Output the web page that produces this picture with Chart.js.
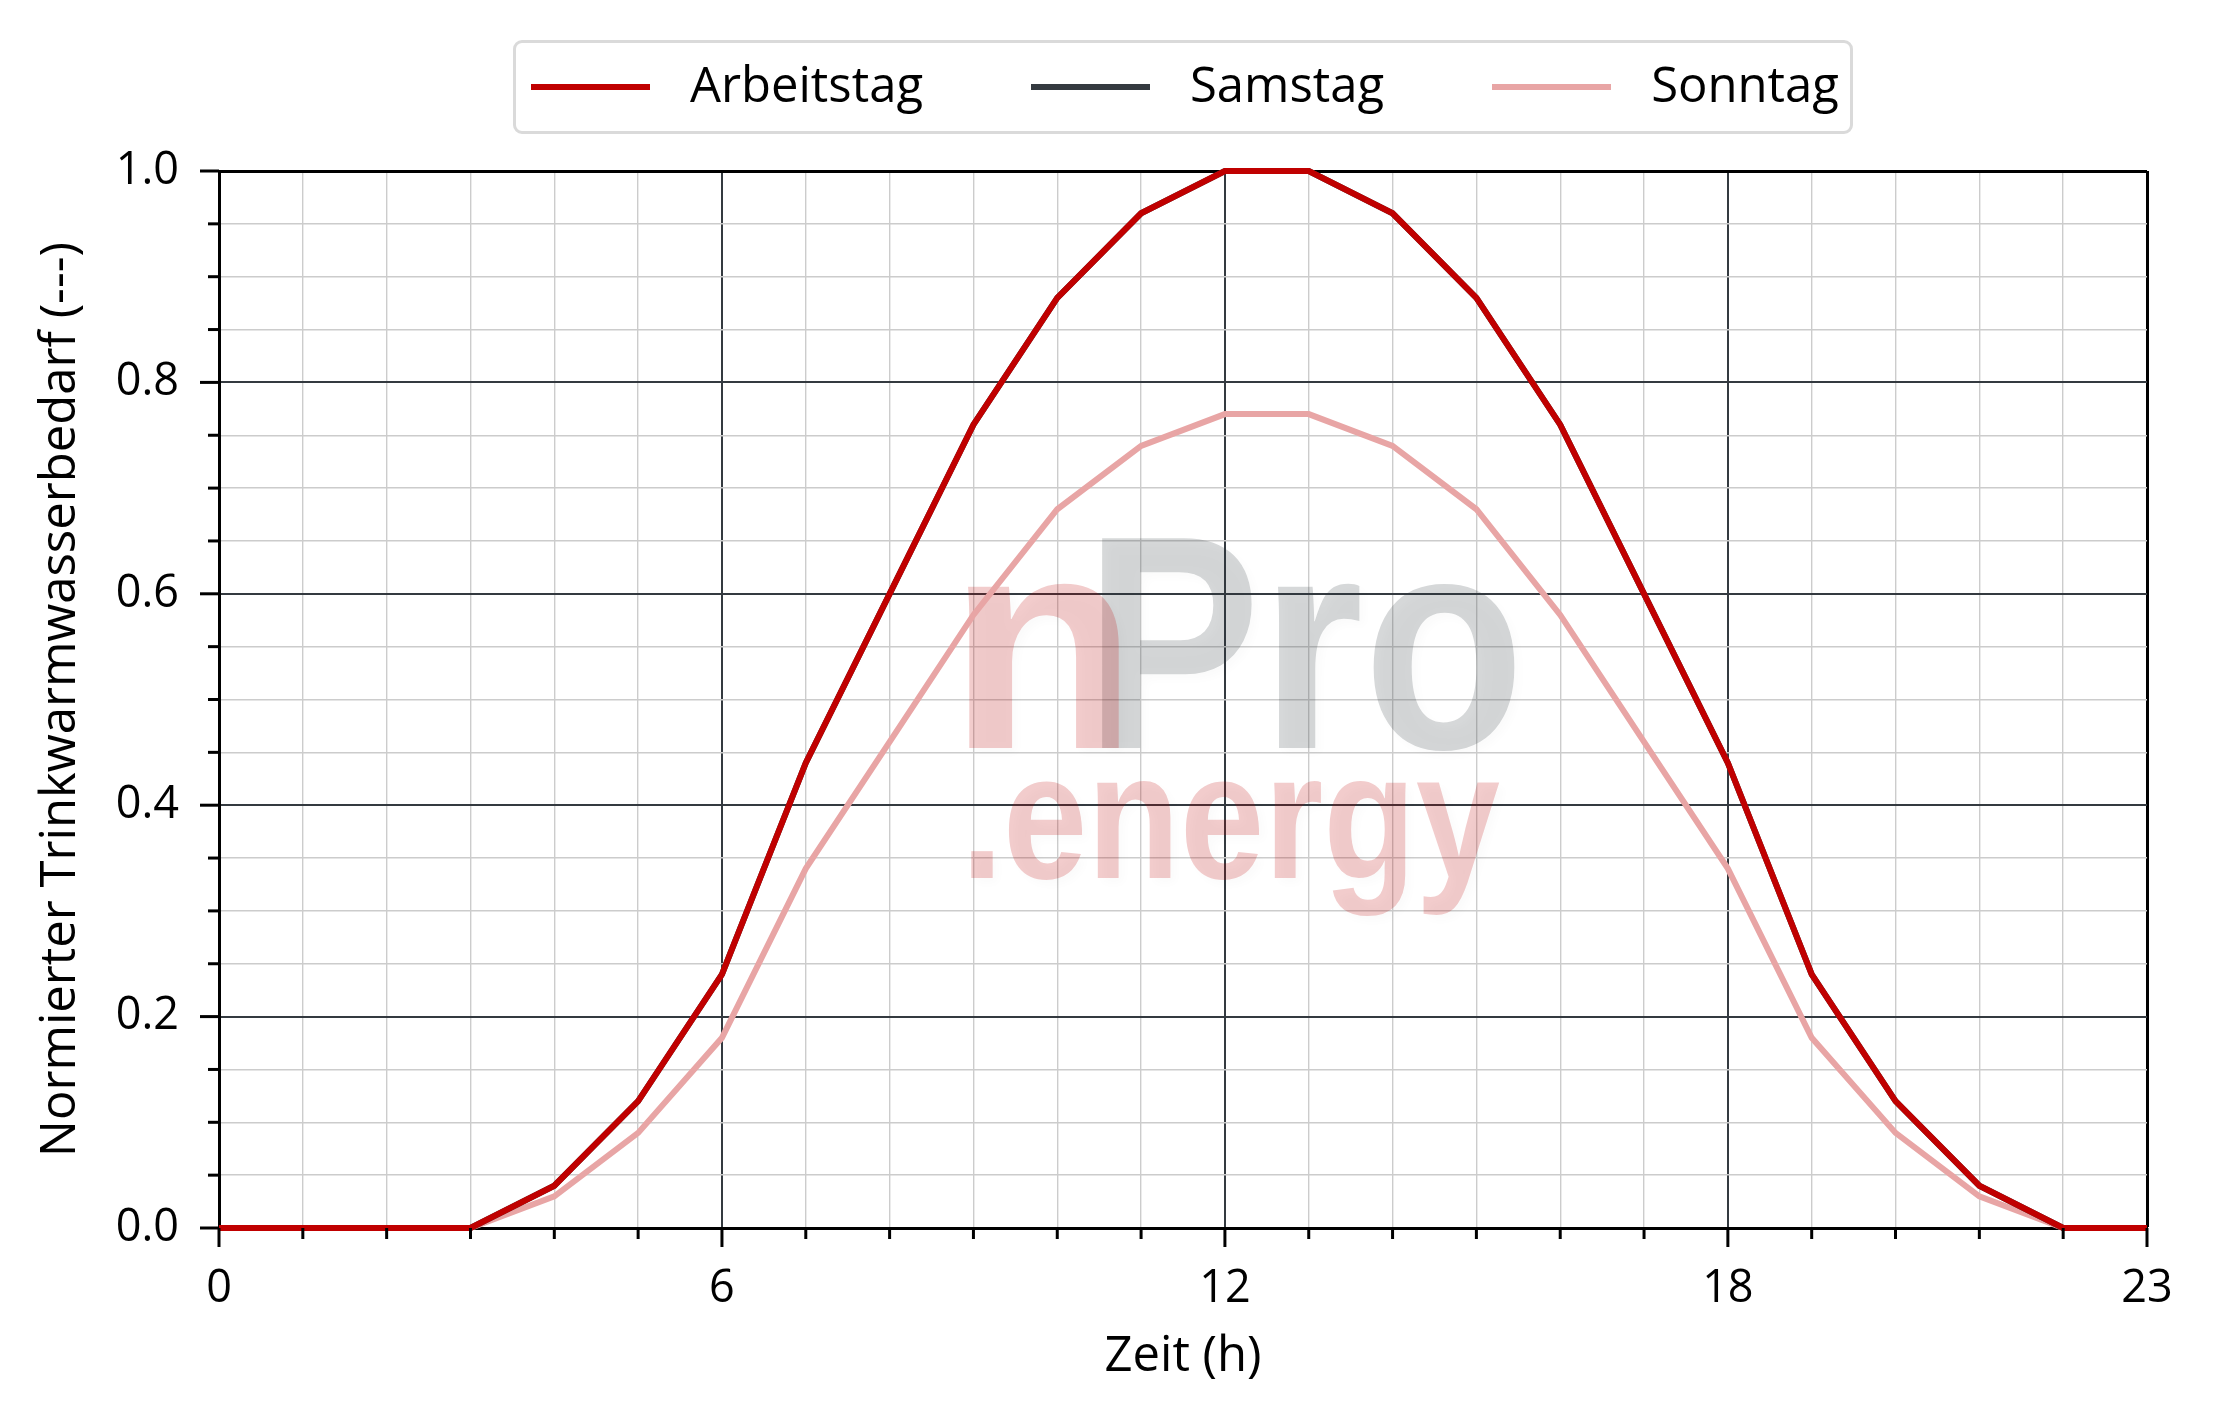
<!DOCTYPE html>
<html>
<head>
<meta charset="utf-8">
<script src="https://cdn.jsdelivr.net/npm/chart.js@4.4.1/dist/chart.umd.min.js"></script>
<style>
  html, body { margin: 0; padding: 0; background: #fff; }
  #rahmen { position: relative; width: 2215px; height: 1424px; }
  #legende {
    position: absolute; left: 513px; top: 40px; width: 1340px; height: 94px;
    border: 3px solid #dadada; border-radius: 9px; background: #fff;
    display: flex; align-items: center; padding-left: 15px; box-sizing: border-box;
    font-family: 'Open Sans', sans-serif; font-size: 49px; color: #000;
  }
  #legende .eintrag { display: flex; align-items: center; margin-right: 108px; }
  #legende .linie { width: 119px; height: 6px; margin-right: 40px; }
  #legende span { position: relative; top: -4px; }
</style>
</head>
<body>
<div id="rahmen">
  <canvas id="diagramm" width="2215" height="1424"></canvas>
  <div id="legende"></div>
</div>
<script>
// Daten
const stunden = [0, 1, 2, 3, 4, 5, 6, 7, 8, 9, 10, 11, 12, 13, 14, 15, 16, 17, 18, 19, 20, 21, 22, 23];
const arbeitstag = [0, 0, 0, 0, 0.04, 0.12, 0.24, 0.44, 0.60, 0.76, 0.88, 0.96, 1.0, 1.0, 0.96, 0.88, 0.76, 0.60, 0.44, 0.24, 0.12, 0.04, 0, 0];
const samstag = [0, 0, 0, 0, 0.04, 0.12, 0.24, 0.44, 0.60, 0.76, 0.88, 0.96, 1.0, 1.0, 0.96, 0.88, 0.76, 0.60, 0.44, 0.24, 0.12, 0.04, 0, 0];
const sonntag = [0, 0, 0, 0, 0.03, 0.09, 0.18, 0.34, 0.46, 0.58, 0.68, 0.74, 0.77, 0.77, 0.74, 0.68, 0.58, 0.46, 0.34, 0.18, 0.09, 0.03, 0, 0];
const xHauptTicks = [0, 6, 12, 18, 23];

const schrift = "'Open Sans', sans-serif";
const dunkel = '#343a40';
const hell = '#cccccc';

function punkte(werte) {
    return stunden.map((h, i) => ({ x: h, y: werte[i] }));
}

function istYHaupt(v) {
    return Math.round(v * 100) % 20 === 0;
}

// kleine/große Tickstriche außen
const tickMarken = {
    id: 'tickMarken',
    afterDraw(chart) {
        const { ctx, chartArea, scales } = chart;
        ctx.save();
        ctx.strokeStyle = '#000';
        ctx.lineWidth = 3;
        scales.x.ticks.forEach(t => {
            const px = scales.x.getPixelForValue(t.value);
            const len = xHauptTicks.includes(t.value) ? 19 : 11;
            ctx.beginPath();
            ctx.moveTo(px, chartArea.bottom);
            ctx.lineTo(px, chartArea.bottom + len);
            ctx.stroke();
        });
        scales.y.ticks.forEach(t => {
            const py = scales.y.getPixelForValue(t.value);
            const len = istYHaupt(t.value) ? 19 : 11;
            ctx.beginPath();
            ctx.moveTo(chartArea.left, py);
            ctx.lineTo(chartArea.left - len, py);
            ctx.stroke();
        });
        ctx.restore();
    }
};

function schreibe(ctx, text, x, y, breite, groesse, farbe) {
    ctx.save();
    ctx.font = 'bold ' + groesse + "px 'Liberation Sans', Arial, sans-serif";
    ctx.fillStyle = farbe;
    const m = ctx.measureText(text);
    const w = m.actualBoundingBoxLeft + m.actualBoundingBoxRight;
    ctx.translate(x, y);
    ctx.scale(breite / w, 1);
    ctx.fillText(text, m.actualBoundingBoxLeft, 0);
    ctx.restore();
}

const wasserzeichen = {
    id: 'wasserzeichen',
    beforeDatasetsDraw(chart) {
        const ctx = chart.ctx;
        ctx.save();
        ctx.shadowColor = 'rgba(0,0,0,0.10)';
        ctx.shadowBlur = 10;
        ctx.shadowOffsetX = 5;
        ctx.shadowOffsetY = 5;
        schreibe(ctx, 'Pro', 1101, 748, 415, 305, 'rgba(52,58,64,0.2)');
        schreibe(ctx, 'n', 967, 748, 156, 305, 'rgba(192,0,0,0.2)');
        schreibe(ctx, '.energy', 971, 878, 529, 180, 'rgba(192,0,0,0.2)');
        ctx.restore();
    }
};

const tickSchrift = { family: schrift, size: 45 };
const titelSchrift = { family: schrift, size: 49 };

const chart = new Chart(document.getElementById('diagramm'), {
    type: 'line',
    data: {
        datasets: [
            { label: 'Arbeitstag', data: punkte(arbeitstag), borderColor: '#c00000', backgroundColor: '#c00000', borderWidth: 6 },
            { label: 'Samstag', data: punkte(samstag), borderColor: dunkel, backgroundColor: dunkel, borderWidth: 6 },
            { label: 'Sonntag', data: punkte(sonntag), borderColor: '#e8a5a5', backgroundColor: '#e8a5a5', borderWidth: 6 }
        ].map(d => Object.assign(d, { pointRadius: 0, tension: 0, fill: false, clip: false }))
    },
    options: {
        responsive: false,
        animation: false,
        layout: { padding: { top: 171, right: 68, left: 0, bottom: 0 } },
        plugins: { legend: { display: false }, tooltip: { enabled: false } },
        scales: {
            x: {
                type: 'linear', min: 0, max: 23,
                afterFit(s) { s.height = 196; },
                ticks: {
                    stepSize: 1, autoSkip: false, maxRotation: 0, padding: 34,
                    font: tickSchrift, color: '#000',
                    callback: v => xHauptTicks.includes(v) ? String(v) : ''
                },
                grid: {
                    drawTicks: false,
                    color: c => c.tick.value === 23 ? '#000' : (xHauptTicks.includes(c.tick.value) ? dunkel : hell),
                    lineWidth: c => c.tick.value === 23 ? 3 : (xHauptTicks.includes(c.tick.value) ? 2 : 1.4)
                },
                border: { color: '#000', width: 3 },
                title: { display: true, text: 'Zeit (h)', font: titelSchrift, color: '#000', padding: { top: 38, bottom: 38 } }
            },
            y: {
                min: 0, max: 1,
                afterFit(s) { s.width = 219; },
                ticks: {
                    stepSize: 0.05, autoSkip: false, padding: 40,
                    font: tickSchrift, color: '#000',
                    callback: v => istYHaupt(v) ? v.toFixed(1) : ''
                },
                grid: {
                    drawTicks: false,
                    color: c => Math.round(c.tick.value * 100) === 100 ? '#000' : (istYHaupt(c.tick.value) ? dunkel : hell),
                    lineWidth: c => Math.round(c.tick.value * 100) === 100 ? 3 : (istYHaupt(c.tick.value) ? 2 : 1.4)
                },
                border: { color: '#000', width: 3 },
                title: { display: true, text: 'Normierter Trinkwarmwasserbedarf (---)', font: titelSchrift, color: '#000', padding: { top: 32, bottom: 32 } }
            }
        }
    },
    plugins: [wasserzeichen, tickMarken]
});

// Legende als HTML aus den Datensätzen
const legende = document.getElementById('legende');
chart.data.datasets.forEach(d => {
    const eintrag = document.createElement('div');
    eintrag.className = 'eintrag';
    const linie = document.createElement('div');
    linie.className = 'linie';
    linie.style.background = d.borderColor;
    const text = document.createElement('span');
    text.textContent = d.label;
    eintrag.appendChild(linie);
    eintrag.appendChild(text);
    legende.appendChild(eintrag);
});
</script>
</body>
</html>
